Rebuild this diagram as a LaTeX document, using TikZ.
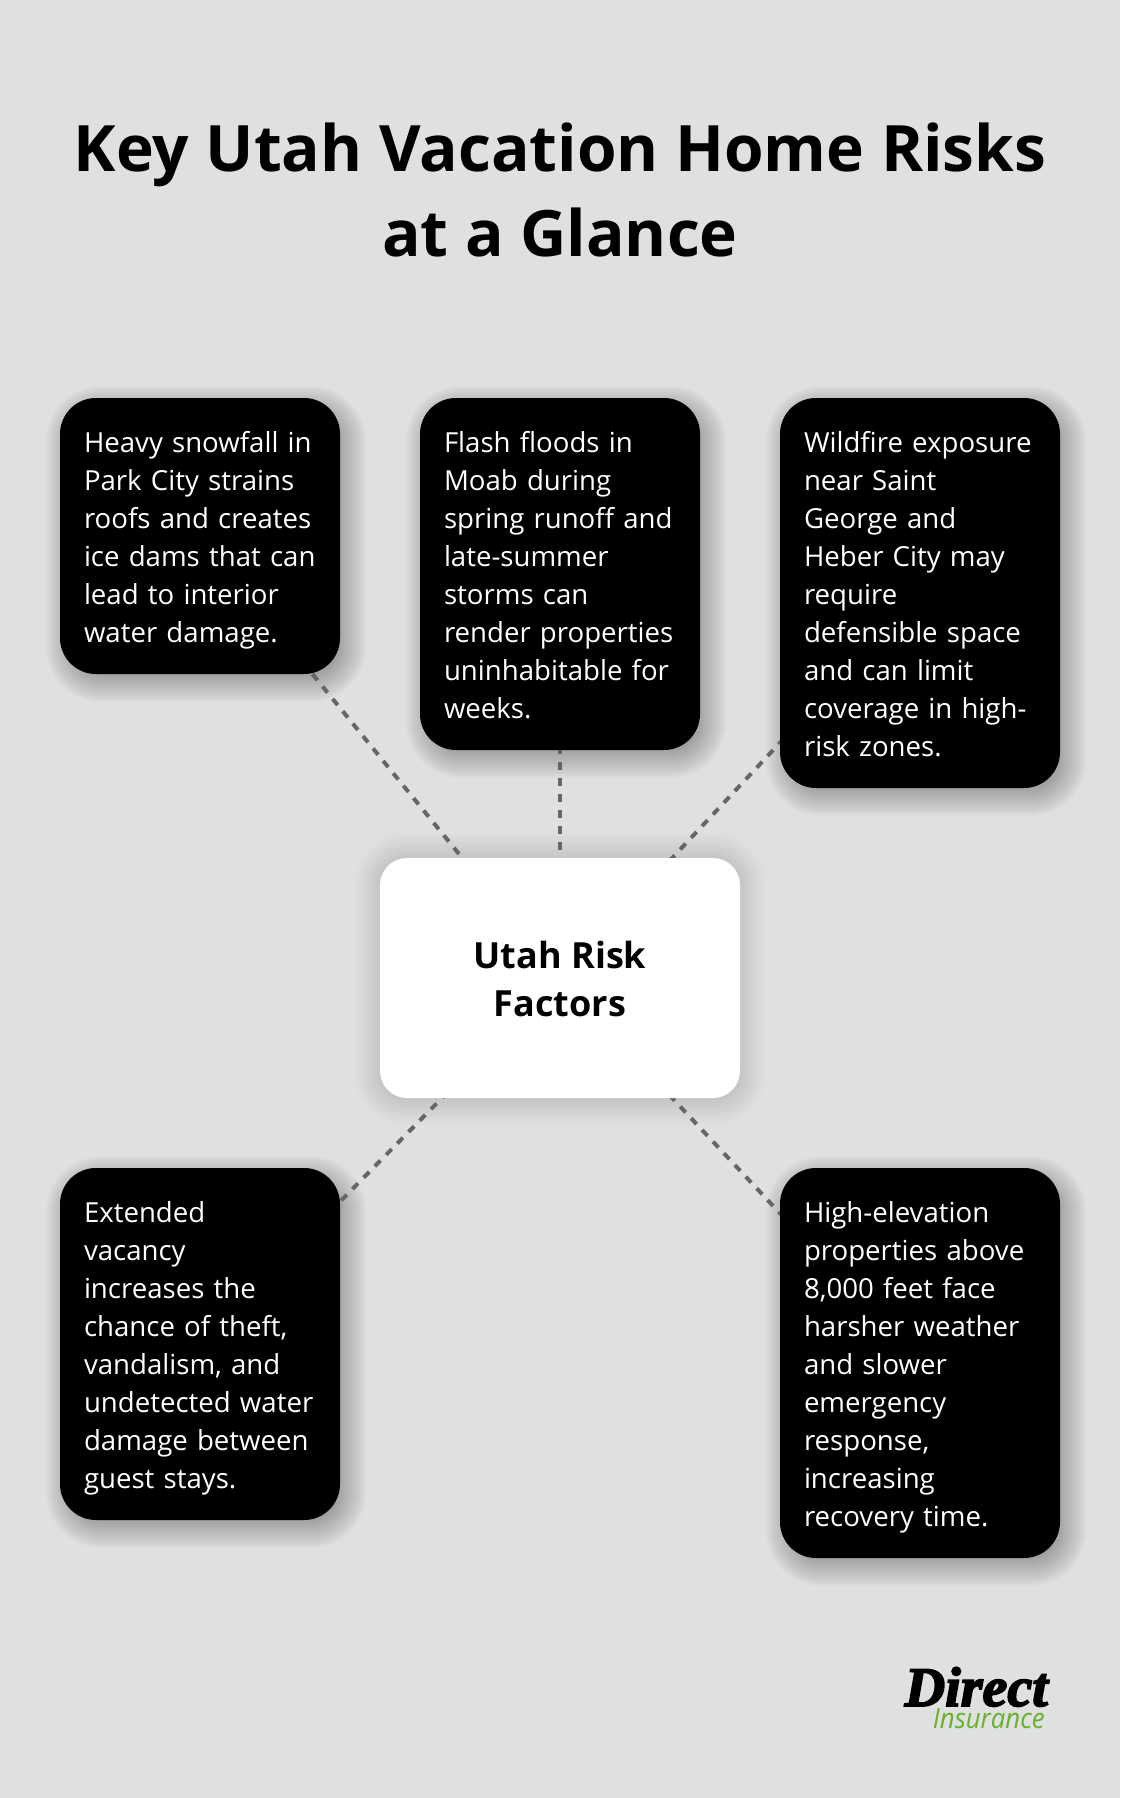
\documentclass[tikz,border=0pt]{standalone}
\usepackage{fontspec}
\usepackage{graphicx}
\setmainfont{Open Sans}
\newfontfamily\logoserif[BoldItalicFeatures={FakeBold=3}]{Liberation Serif}
\newfontfamily\logosans{Open Sans}
\usetikzlibrary{backgrounds,calc}
\definecolor{pagebg}{HTML}{DFE1E0}
\definecolor{linkgrey}{HTML}{666666}
\definecolor{logogreen}{HTML}{69B02C}
\newcommand{\lp}{\rule[-7.6pt]{0pt}{38pt}}
\tikzset{
  x=1pt,y=-1pt,
  riskbox/.style={fill=black,text=white,rounded corners=36pt,minimum width=280pt,inner sep=0pt,
    text width=280pt,align=left,font=\fontsize{27.6}{38}\selectfont,
    execute at begin node={\leftskip=24pt\relax}},
  hubbox/.style={fill=white,text=black,rounded corners=27pt,minimum width=360pt,minimum height=240pt,inner sep=0pt,
    align=center,font=\fontsize{36}{48}\selectfont\bfseries},
  titletext/.style={align=center,text=black,inner sep=0pt,font=\fontsize{64}{85}\selectfont\bfseries},
  linkline/.style={draw=linkgrey,line width=4pt,dash pattern=on 8pt off 8pt},
}
\newcommand{\softshadow}[2]{%
  \foreach \e in {20,18,...,-20}{%
    \fill[black,opacity=0.018,rounded corners={(#2+\e)*1pt}]
      ($(#1.north west)+(6-\e,8-\e)$) rectangle ($(#1.south east)+(6+\e,8+\e)$);
  }%
}
\newcommand{\hubshadow}[2]{%
  \foreach \e in {26,24,...,-26}{%
    \fill[black,opacity=0.0095,rounded corners={(#2+\e)*1pt}]
      ($(#1.north west)+(0-\e,1-\e)$) rectangle ($(#1.south east)+(0+\e,1+\e)$);
  }%
}
\begin{document}
\begin{tikzpicture}
\useasboundingbox (0,0) rectangle (1120,1798);
\node[titletext] (title) at (560,190) {Key Utah Vacation Home Risks\\at a Glance};
\node[hubbox] (hub) at (560,978) {\rule{0pt}{30pt}Utah Risk\\Factors};
\node[riskbox,minimum height=276pt] (snow) at (200,536) {\lp Heavy snowfall in\\Park City strains\\roofs and creates\\ice dams that can\\lead to interior\\water damage.\lp};
\node[riskbox,minimum height=352pt] (flood) at (560,574) {\lp Flash floods in\\Moab during\\spring runoff and\\late-summer\\storms can\\render properties\\uninhabitable for\\weeks.\lp};
\node[riskbox,minimum height=390pt] (fire) at (920,593) {\lp Wildfire exposure\\near Saint\\George and\\Heber City may\\require\\defensible space\\and can limit\\coverage in high-\\risk zones.\lp};
\node[riskbox,minimum height=352pt] (vacant) at (200,1344) {\lp Extended\\vacancy\\increases the\\chance of theft,\\vandalism, and\\undetected water\\damage between\\guest stays.\lp};
\node[riskbox,minimum height=390pt] (elev) at (920,1363) {\lp High-elevation\\properties above\\8,000 feet face\\harsher weather\\and slower\\emergency\\response,\\increasing\\recovery time.\lp};
\node[inner sep=0pt,anchor=base east,text=black] (logoa) at (1048,1706) {\logoserif\bfseries\itshape\fontsize{56}{56}\selectfont Direct};
\node[inner sep=0pt,anchor=base east,text=logogreen] (logob) at (1045,1728) {\scalebox{.92}[1]{\logosans\itshape\fontsize{28}{28}\selectfont Insurance}};
\begin{scope}[on background layer]
  \fill[pagebg] (0,0) rectangle (1120,1798);
  \hubshadow{hub}{27}
  \softshadow{snow}{36}
  \softshadow{flood}{36}
  \softshadow{fire}{36}
  \softshadow{vacant}{36}
  \softshadow{elev}{36}
  \draw[linkline] (hub.center) -- (snow.center);
  \draw[linkline] (hub.center) -- (flood.center);
  \draw[linkline] (hub.center) -- (fire.center);
  \draw[linkline] (hub.center) -- (vacant.center);
  \draw[linkline] (hub.center) -- (elev.center);
\end{scope}
\end{tikzpicture}
\end{document}
